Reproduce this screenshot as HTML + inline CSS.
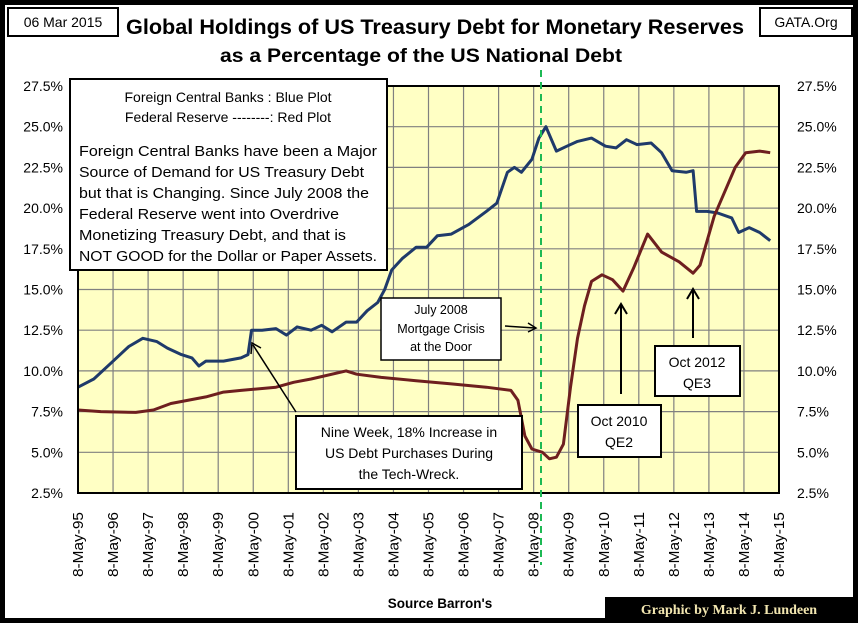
<!DOCTYPE html>
<html><head><meta charset="utf-8"><style>
body{margin:0;background:#fff;}
svg text{font-family:"Liberation Sans",sans-serif;}
</style></head><body>
<svg width="858" height="623" viewBox="0 0 858 623" xmlns="http://www.w3.org/2000/svg">
<rect x="2.5" y="2.5" width="853" height="618" fill="#fff" stroke="#000" stroke-width="5"/>
<rect x="8" y="8" width="110" height="28" fill="#fff" stroke="#000" stroke-width="2"/>
<text x="63" y="27" font-size="14" text-anchor="middle">06 Mar 2015</text>
<rect x="760" y="8" width="92" height="28" fill="#fff" stroke="#000" stroke-width="2"/>
<text x="806" y="27" font-size="14" text-anchor="middle">GATA.Org</text>
<text x="126" y="34" font-size="21" font-weight="bold" textLength="618" lengthAdjust="spacingAndGlyphs">Global Holdings of US Treasury Debt for Monetary Reserves</text>
<text x="220" y="62" font-size="19" font-weight="bold" textLength="402" lengthAdjust="spacingAndGlyphs">as a Percentage of the US National Debt</text>
<rect x="78" y="86" width="701" height="407" fill="#ffffc4"/>
<g id="grid"></g>
<g id="axes"></g>
<g id="series"></g>
<rect x="78" y="86" width="701" height="407" fill="none" stroke="#000" stroke-width="2"/>
<line x1="541" y1="70" x2="541" y2="565" stroke="#1db954" stroke-width="2" stroke-dasharray="7,5"/>

<g>
<rect x="70" y="79" width="317" height="191" fill="#fff" stroke="#000" stroke-width="2"/>
<text font-size="14" text-anchor="middle"><tspan x="228" y="102">Foreign Central Banks : Blue Plot</tspan><tspan x="228" y="122">Federal Reserve --------: Red Plot</tspan></text>
<text font-size="14.5"><tspan x="79" y="156" textLength="298" lengthAdjust="spacingAndGlyphs">Foreign Central Banks have been a Major</tspan><tspan x="79" y="177" textLength="285" lengthAdjust="spacingAndGlyphs">Source of Demand for US Treasury Debt</tspan><tspan x="79" y="198" textLength="290" lengthAdjust="spacingAndGlyphs">but that is Changing.  Since July 2008 the</tspan><tspan x="79" y="219" textLength="260" lengthAdjust="spacingAndGlyphs">Federal Reserve went into Overdrive</tspan><tspan x="79" y="240" textLength="267" lengthAdjust="spacingAndGlyphs">Monetizing Treasury Debt, and that is</tspan><tspan x="79" y="261" textLength="298" lengthAdjust="spacingAndGlyphs">NOT GOOD for the Dollar or Paper Assets.</tspan></text>
</g>
<g>
<rect x="381" y="298" width="120" height="62" fill="#fff" stroke="#000" stroke-width="1.5"/>
<text font-size="12.5" text-anchor="middle"><tspan x="441" y="314">July 2008</tspan><tspan x="441" y="333">Mortgage Crisis</tspan><tspan x="441" y="351">at the Door</tspan></text>
<line x1="505" y1="326" x2="535" y2="328" stroke="#000" stroke-width="1.5"/><path d="M528,323 L536,328 L528,332" fill="none" stroke="#000" stroke-width="1.5"/>
</g>
<g>
<line x1="296" y1="412" x2="253" y2="345" stroke="#000" stroke-width="1.5"/><path d="M251,354 L252,343 L261,348" fill="none" stroke="#000" stroke-width="1.5"/>
<rect x="296" y="416" width="226" height="73" fill="#fff" stroke="#000" stroke-width="2"/>
<text font-size="14" text-anchor="middle"><tspan x="409" y="437">Nine Week, 18% Increase in</tspan><tspan x="409" y="458">US Debt Purchases During</tspan><tspan x="409" y="479">the Tech-Wreck.</tspan></text>
</g>
<g>
<line x1="621" y1="394" x2="621" y2="305" stroke="#000" stroke-width="2"/><path d="M615,314 L621,304 L627,314" fill="none" stroke="#000" stroke-width="2"/>
<rect x="578" y="405" width="83" height="52" fill="#fff" stroke="#000" stroke-width="2"/>
<text font-size="14" text-anchor="middle"><tspan x="619" y="426">Oct 2010</tspan><tspan x="619" y="447">QE2</tspan></text>
</g>
<g>
<line x1="693" y1="338" x2="693" y2="290" stroke="#000" stroke-width="2"/><path d="M687,299 L693,289 L699,299" fill="none" stroke="#000" stroke-width="2"/>
<rect x="655" y="346" width="85" height="50" fill="#fff" stroke="#000" stroke-width="2"/>
<text font-size="14" text-anchor="middle"><tspan x="697" y="367">Oct 2012</tspan><tspan x="697" y="388">QE3</tspan></text>
</g>
<text x="440" y="608" font-size="13.5" font-weight="bold" text-anchor="middle">Source Barron's</text>
<rect x="605" y="597" width="248" height="23" fill="#000"/>
<text x="729" y="614" font-size="14" font-weight="bold" fill="#f2e6b0" text-anchor="middle" style="font-family:'Liberation Serif',serif">Graphic by Mark J. Lundeen</text>
</svg>
<script>
const yTicks=[2.5,5,7.5,10,12.5,15,17.5,20,22.5,25,27.5];
const xYears=[95,96,97,98,99,0,1,2,3,4,5,6,7,8,9,10,11,12,13,14,15];
const blueT=[1995.35,1995.8,1996.3,1996.8,1997.2,1997.6,1997.9,1998.3,1998.6,1998.8,1999.0,1999.5,2000.0,2000.2,2000.3,2000.6,2001.0,2001.3,2001.6,2002.0,2002.3,2002.6,2003.0,2003.3,2003.6,2003.9,2004.1,2004.3,2004.6,2005.0,2005.3,2005.6,2006.0,2006.5,2007.0,2007.3,2007.6,2007.8,2008.0,2008.3,2008.5,2008.7,2008.9,2009.0,2009.3,2009.6,2010.0,2010.4,2010.7,2011.0,2011.3,2011.7,2012.0,2012.3,2012.7,2012.9,2013.0,2013.3,2013.6,2014.0,2014.2,2014.5,2014.8,2015.1];
const blueV=[9.0,9.5,10.5,11.5,12.0,11.8,11.4,11.0,10.8,10.3,10.6,10.6,10.8,11.0,12.5,12.5,12.6,12.2,12.7,12.5,12.8,12.4,13.0,13.0,13.7,14.2,15.0,16.2,16.9,17.6,17.6,18.3,18.4,19.0,19.8,20.3,22.2,22.5,22.2,23.0,24.3,25.0,24.0,23.5,23.8,24.1,24.3,23.8,23.7,24.2,23.9,24.0,23.4,22.3,22.2,22.3,19.8,19.8,19.7,19.4,18.5,18.8,18.5,18.0];
const redT=[1995.35,1996,1997,1997.5,1998,1999,1999.5,2000,2001,2001.5,2002,2003,2003.3,2004,2005,2006,2007,2007.7,2007.9,2008.1,2008.3,2008.6,2008.8,2009.0,2009.2,2009.4,2009.6,2009.8,2010.0,2010.3,2010.6,2010.9,2011.2,2011.6,2012.0,2012.5,2012.9,2013.1,2013.5,2013.8,2014.1,2014.4,2014.8,2015.1];
const redV=[7.6,7.5,7.45,7.6,8.0,8.4,8.7,8.8,9.0,9.3,9.5,10.0,9.8,9.6,9.4,9.2,9.0,8.8,8.2,6.0,5.2,5.0,4.6,4.7,5.5,9.0,12.0,14.0,15.5,15.9,15.6,14.9,16.3,18.4,17.3,16.7,16.0,16.5,19.5,21.0,22.5,23.4,23.5,23.4];
const NS='http://www.w3.org/2000/svg';
const X0=78,X1=779,Y0=86,Y1=493,T0=1995.35,T1=2015.35;
function xs(t){return X0+(t-T0)/(T1-T0)*(X1-X0);}
function ys(v){return Y1-(v-2.5)/25*(Y1-Y0);}
function mk(tag,attrs,parent){const e=document.createElementNS(NS,tag);for(const k in attrs)e.setAttribute(k,attrs[k]);parent.appendChild(e);return e;}
const grid=document.getElementById('grid'),axes=document.getElementById('axes'),series=document.getElementById('series');
yTicks.forEach(v=>{
  const l=mk('line',{x1:X0,x2:X1,y1:ys(v),y2:ys(v),stroke:'#808080','stroke-width':1.2},grid);
  
  
  const a=mk('text',{x:63,y:ys(v)+5,'font-size':14,'text-anchor':'end'},axes);a.textContent=v.toFixed(1)+'%';
  
  
  const b=mk('text',{x:797,y:ys(v)+5,'font-size':14,'text-anchor':'start'},axes);b.textContent=v.toFixed(1)+'%';
  
  
});
xYears.forEach((yy,i)=>{
  const x=xs(T0+i);
  const l=mk('line',{x1:x,x2:x,y1:Y0,y2:Y1,stroke:'#808080','stroke-width':1.2},grid);
  
  
  const t=mk('text',{x:0,y:0,'font-size':14.5,'text-anchor':'end',textLength:65,lengthAdjust:'spacingAndGlyphs',transform:`translate(${x+5},${Y1+19}) rotate(-90)`},axes);
  t.textContent='8-May-'+String(yy).padStart(2,'0');
  
  
});
function line(T,V,color,name){
  const p=mk('polyline',{points:T.map((t,i)=>xs(t).toFixed(1)+','+ys(V[i]).toFixed(1)).join(' '),fill:'none',stroke:color,'stroke-width':3,'stroke-linejoin':'round'},series);
  
  
}
line(blueT,blueV,'#1f3a6a','foreign-central-banks-line');
line(redT,redV,'#6e1f1f','federal-reserve-line');
</script>
</body></html>
